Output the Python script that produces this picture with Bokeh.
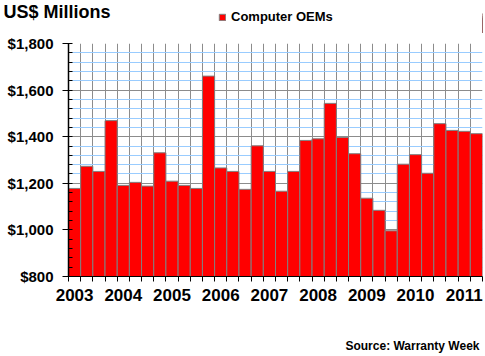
from bokeh.plotting import figure
from bokeh.layouts import column
from bokeh.models import FixedTicker, Legend, LegendItem, Range1d, ColumnDataSource, Title, Label
from bokeh.embed import file_html
from bokeh.resources import INLINE

# Quarterly warranty claims, Computer OEMs, 2003 Q1 - 2011 Q2 (US$ millions)
quarters = [f"{y} Q{q}" for y in range(2003, 2012) for q in range(1, 5)][:34]
values = [1178, 1273, 1251, 1469,
          1191, 1204, 1188, 1331,
          1209, 1191, 1178, 1660,
          1266, 1251, 1174, 1361,
          1251, 1166, 1251, 1384,
          1391, 1543, 1397, 1327,
          1136, 1084, 996, 1282,
          1323, 1243, 1456, 1427,
          1423, 1413]
year_labels = ["2003", "2004", "2005", "2006", "2007", "2008", "2009", "2010", "2011"]
y_ticks = [800, 1000, 1200, 1400, 1600, 1800]
y_tick_labels = ["$800", "$1,000", "$1,200", "$1,400", "$1,600", "$1,800"]
y_minor_step = 40
series_name = "Computer OEMs"
title_text = "US$ Millions"
source_text = "Source: Warranty Week"

FONT = "Liberation Sans"
BAR_FILL = "#ff0000"
BAR_LINE = "#808080"
W = 485

n = len(values)
xs = list(range(n))
src = ColumnDataSource(data=dict(x=xs, top=values, q=quarters))


def bare(fig):
    fig.min_border_left = 0
    fig.min_border_right = 0
    fig.min_border_top = 0
    fig.min_border_bottom = 0
    fig.outline_line_color = None
    fig.xgrid.visible = False
    fig.ygrid.visible = False


# ---------- header strip: title + legend ----------
# the strip's x range lies left of the data, so its bars stay out of view
head = figure(width=W, height=33, output_backend="svg", toolbar_location=None,
              x_axis_location=None, y_axis_location=None,
              x_range=Range1d(-2 * n, -n), y_range=Range1d(y_ticks[0], y_ticks[-1]),
              title=Title(text=title_text, align="left", offset=-65, standoff=-22,
                          text_font=FONT, text_font_size="18px",
                          text_font_style="bold", text_color="black"))
bare(head)
head.min_border_top = 10
key = head.vbar(x="x", top="top", bottom=y_ticks[0], width=1.0, source=src,
                fill_color=BAR_FILL, line_color=BAR_LINE)
legend = Legend(items=[LegendItem(label=series_name, renderers=[key])],
                location=(150, 9), glyph_width=8, glyph_height=8,
                padding=0, margin=0, border_line_color=None, background_fill_alpha=0,
                label_text_font=FONT, label_text_font_size="13px",
                label_text_font_style="bold", label_text_color="black",
                label_standoff=5)
head.add_layout(legend)

# ---------- main chart ----------
p = figure(width=W, height=303, output_backend="svg", toolbar_location=None,
           x_range=Range1d(-0.5, n - 0.5), y_range=Range1d(y_ticks[0], y_ticks[-1]))
p.min_border_left = 68
p.min_border_right = 3
p.min_border_top = 10
p.min_border_bottom = 60
p.outline_line_color = None
p.background_fill_color = "white"

r = p.vbar(x="x", top="top", bottom=y_ticks[0], width=1.0, source=src,
           fill_color=BAR_FILL, line_color=BAR_LINE, line_width=1)

# x axis: year labels at first quarter of each year, ticks at bar boundaries
boundaries = [i - 0.5 for i in range(n + 1)]
year_pos = [i * 4 for i in range(len(year_labels))]
p.xaxis.ticker = FixedTicker(ticks=year_pos, minor_ticks=boundaries)
p.xaxis.major_label_overrides = {pos: lab for pos, lab in zip(year_pos, year_labels)}
p.xaxis.major_tick_line_color = None
p.xaxis.major_tick_out = 0
p.xaxis.major_tick_in = 0
p.xaxis.minor_tick_out = 5
p.xaxis.minor_tick_in = 0
p.xaxis.minor_tick_line_color = "black"
p.xaxis.axis_line_color = "black"
p.xaxis.major_label_standoff = 7
p.xaxis.major_label_text_font = FONT
p.xaxis.major_label_text_font_size = "17px"
p.xaxis.major_label_text_font_style = "bold"
p.xaxis.major_label_text_color = "black"

# y axis
y_minor = [v for v in range(y_ticks[0], y_ticks[-1] + 1, y_minor_step) if v not in y_ticks]
p.yaxis.ticker = FixedTicker(ticks=y_ticks, minor_ticks=y_minor)
p.yaxis.major_label_overrides = {t: lab for t, lab in zip(y_ticks, y_tick_labels)}
p.yaxis.major_tick_out = 6
p.yaxis.major_tick_in = 4
p.yaxis.minor_tick_out = 0
p.yaxis.minor_tick_in = 4
p.yaxis.axis_line_color = "black"
p.yaxis.axis_line_width = 1.5
p.yaxis.major_tick_line_color = "black"
p.yaxis.minor_tick_line_color = "black"
p.yaxis.major_label_standoff = 9
p.yaxis.major_label_text_font = FONT
p.yaxis.major_label_text_font_size = "15px"
p.yaxis.major_label_text_font_style = "bold"
p.yaxis.major_label_text_color = "black"

# grids
p.xgrid.ticker = FixedTicker(ticks=boundaries)
p.xgrid.grid_line_color = "#8c8c8c"
p.xgrid.grid_line_width = 1
p.ygrid.grid_line_color = "#8c8c8c"
p.ygrid.grid_line_width = 1
p.ygrid.minor_grid_line_color = "#99ccff"
p.ygrid.minor_grid_line_width = 1

# ---------- footer strip: source note ----------
foot = figure(width=W, height=20, output_backend="svg", toolbar_location=None,
              x_axis_location=None, y_axis_location=None,
              x_range=Range1d(0, 1), y_range=Range1d(0, 1))
bare(foot)
foot.add_layout(Label(x=411, y=11, x_units="screen", y_units="screen", text=source_text,
                      text_font=FONT, text_font_size="12px", text_font_style="bold",
                      text_color="black", text_align="right", text_baseline="alphabetic"))

layout = column(head, p, foot, spacing=0)
open("out.html", "w").write(file_html(layout, INLINE))
